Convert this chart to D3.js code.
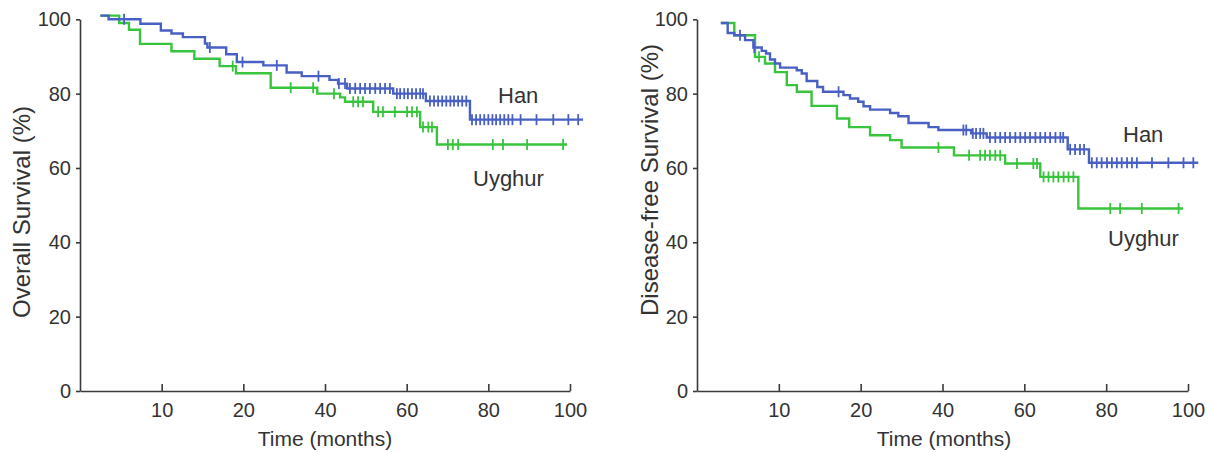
<!DOCTYPE html>
<html><head><meta charset="utf-8">
<script src="https://cdn.jsdelivr.net/npm/d3@7"></script>
<style>
body{margin:0;background:#fff}
text{font-family:"Liberation Sans",Arial,Helvetica,sans-serif;fill:#333}
</style>
</head><body>
<svg id="chart" width="1211" height="452"></svg>
<script>
// ---- data ----
const xTickValues = [10, 20, 40, 60, 80, 100];
const xTickLabels = ["10", "20", "40", "60", "80", "100"];
const xScaleStops = [0, 10, 20, 40, 60, 80, 100];
const yTickValues = [0, 20, 40, 60, 80, 100];
const groups = ["Han", "Uyghur"];
const panelYLabels = ["Overall Survival (%)", "Disease-free Survival (%)"];
const xLabel = "Time (months)";

// Overall survival – Han : [time, survival %]
const osHanSteps = [[2.5,101.0],[3.5,100.0],[7.4,98.8],[9.9,97.0],[11.2,96.2],[12.6,95.2],[15.3,93.5],[15.6,92.4],[17.9,90.6],[19.2,88.5],[24.9,87.6],[30.6,85.7],[34.3,84.7],[41.1,83.7],[43.2,82.7],[45.4,81.4],[56.7,80.0],[64.7,78.0],[75.5,73.0]];
const osHanEnd = 103.2;
const osHanCensor = [5.4,15.9,19.9,28.2,38.4,43.4,44.9,46.1,47.4,48.6,49.8,51.0,52.3,53.5,54.7,55.9,57.6,58.4,59.4,60.3,61.3,62.3,63.3,64.0,65.7,66.7,67.7,68.7,69.7,70.7,71.6,72.6,73.6,74.6,76.0,77.0,78.0,79.0,80.0,81.0,81.9,82.9,83.9,84.9,85.9,87.9,91.8,95.9,99.6,102.0];

// Overall survival – Uyghur
const osUyghurSteps = [[2.5,101.0],[4.8,99.0],[6.0,97.2],[7.35,93.4],[11.2,91.4],[14.0,89.4],[17.1,87.4],[19.1,85.5],[26.7,81.6],[38.1,80.0],[43.7,79.0],[44.9,77.8],[51.8,75.1],[63.3,71.0],[67.4,66.3]];
const osUyghurEnd = 99.3;
const osUyghurCensor = [18.7,31.6,37.1,42.2,46.9,48.1,49.3,53.0,54.2,57.1,60.1,61.3,62.5,64.0,65.3,66.2,70.1,71.3,72.6,81.1,83.6,89.5,98.3];

// Disease-free survival – Han
const dfsHanSteps = [[2.9,99.0],[3.75,96.3],[4.56,95.7],[5.87,94.4],[6.89,92.4],[7.91,91.5],[8.44,90.8],[8.92,89.2],[9.53,88.1],[10.15,87.0],[12.19,86.3],[12.8,85.4],[13.4,83.4],[14.7,81.8],[15.4,80.5],[17.9,79.6],[18.7,78.7],[19.7,77.8],[20.7,76.6],[22.3,75.7],[27.2,74.8],[29.2,73.9],[31.7,72.1],[36.6,71.0],[39.0,70.2],[47.0,69.3],[50.8,68.2],[70.6,65.0],[75.8,61.4]];
const dfsHanEnd = 102.5;
const dfsHanCensor = [5.26,7.0,17.3,45.1,45.8,47.4,48.2,49.2,50.0,51.6,52.9,54.1,55.3,56.5,57.8,59.0,60.2,61.4,62.7,63.9,65.1,66.3,67.6,68.8,69.5,71.2,72.4,73.6,74.6,76.5,77.7,78.9,80.2,81.4,82.6,83.8,85.1,86.3,87.5,91.2,95.2,98.9,101.3];

// Disease-free survival – Uyghur
const dfsUyghurSteps = [[2.93,99.0],[4.56,95.7],[7.09,89.9],[8.31,88.1],[9.53,85.8],[10.97,82.3],[12.2,80.5],[14.0,76.7],[17.1,73.3],[18.6,71.0],[22.3,68.8],[27.2,67.5],[30.0,65.5],[42.8,63.4],[55.3,61.2],[63.9,57.6],[73.2,49.1]];
const dfsUyghurEnd = 98.8;
const dfsUyghurCensor = [7.58,39.0,46.5,49.2,50.4,51.6,52.9,54.1,58.2,62.2,63.1,64.7,65.9,67.1,68.3,69.6,70.8,72.0,81.0,83.4,88.7,97.7];

// ---- drawing ----
const colors = {Han: "#4860c4", Uyghur: "#38c43c"};
const svg = d3.select("#chart");
svg.append("rect").attr("width",1211).attr("height",452).attr("fill","#fff");

const panels = [
  {x0: 80, x1: 570, ylab: panelYLabels[0], ylabX: 22, ylabY: 212, xlabX: 325,
   series: [
     {g: "Uyghur", steps: osUyghurSteps, end: osUyghurEnd, cens: osUyghurCensor},
     {g: "Han", steps: osHanSteps, end: osHanEnd, cens: osHanCensor}],
   labels: [{g: "Han", x: 498, y: 103}, {g: "Uyghur", x: 473, y: 186}]},
  {x0: 697, x1: 1188, ylab: panelYLabels[1], ylabX: 650, ylabY: 180, xlabX: 944,
   series: [
     {g: "Uyghur", steps: dfsUyghurSteps, end: dfsUyghurEnd, cens: dfsUyghurCensor},
     {g: "Han", steps: dfsHanSteps, end: dfsHanEnd, cens: dfsHanCensor}],
   labels: [{g: "Han", x: 1123, y: 142}, {g: "Uyghur", x: 1108, y: 246}]}
];

const y = d3.scaleLinear().domain([0, 100]).range([391, 19.3]);

function levelAt(steps, t) {
  let v = steps[0][1];
  for (const s of steps) { if (s[0] <= t) v = s[1]; else break; }
  return v;
}

panels.forEach(p => {
  const step = (p.x1 - p.x0) / (xScaleStops.length - 1);
  const x = d3.scaleLinear().domain(xScaleStops)
    .range(xScaleStops.map((d, i) => p.x0 + i * step));
  const g = svg.append("g");

  // axes
  const ya = g.append("g").attr("transform", `translate(${p.x0},0)`)
    .call(d3.axisLeft(y).tickValues(yTickValues).tickSize(4).tickSizeOuter(0).tickPadding(5));
  const xa = g.append("g").attr("transform", `translate(0,391)`)
    .call(d3.axisBottom(x).tickValues(xTickValues).tickFormat((d, i) => xTickLabels[i])
      .tickSizeInner(-7).tickSizeOuter(0).tickPadding(12));
  [ya, xa].forEach(a => {
    a.select(".domain").attr("stroke", "#3a3a3a").attr("stroke-width", 1.6);
    a.selectAll(".tick line").attr("stroke", "#3a3a3a").attr("stroke-width", 1.6);
    a.selectAll(".tick text").attr("fill", "#333").style("font-size", "20px")
      .style("font-family", '"Liberation Sans",Arial,sans-serif');
  });

  // axis titles
  g.append("text").attr("transform", `translate(${p.ylabX},${p.ylabY}) rotate(-90)`)
    .attr("text-anchor", "middle").attr("dy", "0.35em").style("font-size", "24px").text(p.ylab);
  g.append("text").attr("x", p.xlabX).attr("y", 446).attr("text-anchor", "middle")
    .style("font-size", "21px").text(xLabel);

  // curves
  const line = d3.line().x(d => x(d[0])).y(d => y(d[1])).curve(d3.curveStepAfter);
  p.series.forEach(s => {
    const pts = s.steps.concat([[s.end, s.steps[s.steps.length - 1][1]]]);
    g.append("path").datum(pts).attr("d", line).attr("fill", "none")
      .attr("stroke", colors[s.g]).attr("stroke-width", 2.4);
    g.selectAll(null).data(s.cens).enter().append("line")
      .attr("x1", d => x(d)).attr("x2", d => x(d))
      .attr("y1", d => y(levelAt(s.steps, d)) - 5.5).attr("y2", d => y(levelAt(s.steps, d)) + 5.5)
      .attr("stroke", colors[s.g]).attr("stroke-width", 1.8);
  });

  // group labels
  p.labels.forEach(l => {
    g.append("text").attr("x", l.x).attr("y", l.y).style("font-size", "22px")
      .attr("fill", "#222").text(l.g);
  });
});
</script>
</body></html>
